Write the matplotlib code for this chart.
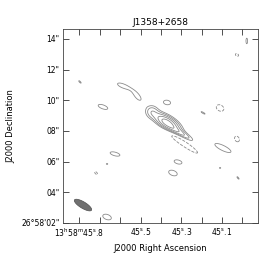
import numpy as np
import matplotlib
matplotlib.use("Agg")
import matplotlib.pyplot as plt

# ---- data ----
title = "J1358+2658"
# Gaussian components: RA seconds (13h58m..), Dec arcsec (26d58m..), amplitude (rms units),
# sigma along major / minor (arcsec), position angle (deg, from +x counter-clockwise)
comp_ra  = [45.370, 45.445, 45.300, 45.290,
            45.586, 45.514, 45.684, 45.370, 45.110, 45.193, 45.797, 45.027,
            44.979, 45.625, 45.664, 45.718, 45.316, 45.341, 45.096, 45.027,
            45.110, 45.022, 45.664]
comp_dec = [8.55, 9.28, 7.85, 7.20,
            10.94, 10.24, 9.57, 9.86, 9.50, 9.18, 11.20, 12.96,
            13.87, 6.50, 5.85, 5.26, 5.98, 5.26, 6.89, 7.48,
            5.59, 4.94, 2.39]
comp_amp = [20.0, 5.5, 7.0, -6.0,
            3.8, 3.8, 4.8, 4.8, -4.8, 3.6, 3.6, -4.0,
            4.0, 4.8, 3.6, -4.0, 4.8, 4.8, 4.8, -4.8,
            3.6, 3.8, 4.8]
comp_maj = [0.62, 0.30, 0.65, 0.95,
            0.55, 0.42, 0.34, 0.24, 0.27, 0.25, 0.18, 0.15,
            0.24, 0.34, 0.08, 0.15, 0.27, 0.30, 0.60, 0.20,
            0.08, 0.15, 0.30]
comp_min = [0.26, 0.30, 0.13, 0.14,
            0.19, 0.19, 0.13, 0.15, 0.20, 0.06, 0.06, 0.10,
            0.07, 0.12, 0.05, 0.08, 0.13, 0.17, 0.17, 0.15,
            0.05, 0.05, 0.17]
comp_pa  = [-31, 0, -31, -34,
            -22, -48, -20, -10, -30, -30, -45, -30,
            90, -15, 0, -45, -15, -20, -26, -60,
            0, -50, -20]
levels_pos = [3, 5, 8, 12, 17]
levels_neg = [-3]

beam_ra, beam_dec = 45.782, 3.17
beam_major, beam_minor, beam_pa = 1.30, 0.42, -31

xticks = [45.8, 45.5, 45.3, 45.1]
xticklabels = [r"13$^{\rm h}$58$^{\rm m}$45$^{\rm s}$.8", r"45$^{\rm s}$.5",
               r"45$^{\rm s}$.3", r"45$^{\rm s}$.1"]
xticks_all = [45.8, 45.7, 45.6, 45.5, 45.4, 45.3, 45.2, 45.1, 45.0]
yticks = [2, 4, 6, 8, 10, 12, 14]
yticklabels = ["26°58'02\"", "04\"", "06\"", "08\"", "10\"", "12\"", "14\""]
xlim = (45.880, 44.924)
ylim = (2.0, 14.65)
SCALE = 15 * np.cos(np.deg2rad(26.97))  # arcsec per RA second

# ---- model image ----
ra = np.linspace(xlim[1], xlim[0], 500)
dec = np.linspace(ylim[0], ylim[1], 500)
RA, DEC = np.meshgrid(ra, dec)
img = np.zeros_like(RA)
for r0, d0, a, sma, smi, pa in zip(comp_ra, comp_dec, comp_amp, comp_maj, comp_min, comp_pa):
    du = (r0 - RA) * SCALE
    dv = DEC - d0
    t = np.deg2rad(pa)
    p = du * np.cos(t) + dv * np.sin(t)
    q = -du * np.sin(t) + dv * np.cos(t)
    img += a * np.exp(-0.5 * (p**2 / sma**2 + q**2 / smi**2))

fig = plt.figure(figsize=(2.75, 2.63), dpi=100)
ax = fig.add_axes([63/275, 1-223/263, 195/275, 194/263])
ax.contour(RA, DEC, img, levels=levels_pos, colors="#8a8a8a", linewidths=0.6)
ax.contour(RA, DEC, img, levels=levels_neg, colors="#8a8a8a", linewidths=0.6,
           linestyles="dashed")

# beam
th = np.linspace(0, 2*np.pi, 100)
t = np.deg2rad(beam_pa)
pu = beam_major/2*np.cos(th); qv = beam_minor/2*np.sin(th)
du = pu*np.cos(t) - qv*np.sin(t)
dv = pu*np.sin(t) + qv*np.cos(t)
ax.fill(beam_ra - du/SCALE, beam_dec + dv, facecolor="#707070", edgecolor="#505050", lw=0.5)

ax.set_xlim(*xlim)
ax.set_ylim(*ylim)
ax.set_xticks(xticks_all)
ax.set_xticklabels([xticklabels[xticks.index(v)] if v in xticks else "" for v in xticks_all])
ax.set_yticks(yticks)
ax.set_yticklabels(yticklabels)
ax.tick_params(direction="in", length=4, width=0.6, color="#333333", labelsize=5.5,
               top=True, right=True, pad=2.5)
for s in ax.spines.values():
    s.set_linewidth(0.6)
    s.set_color("#444444")
ax.set_title(title, fontsize=6.5, pad=3)
ax.set_xlabel("J2000 Right Ascension", fontsize=6, labelpad=4)
ax.set_ylabel("J2000 Declination", fontsize=6, labelpad=4)
fig.savefig("out.png", dpi=100)
